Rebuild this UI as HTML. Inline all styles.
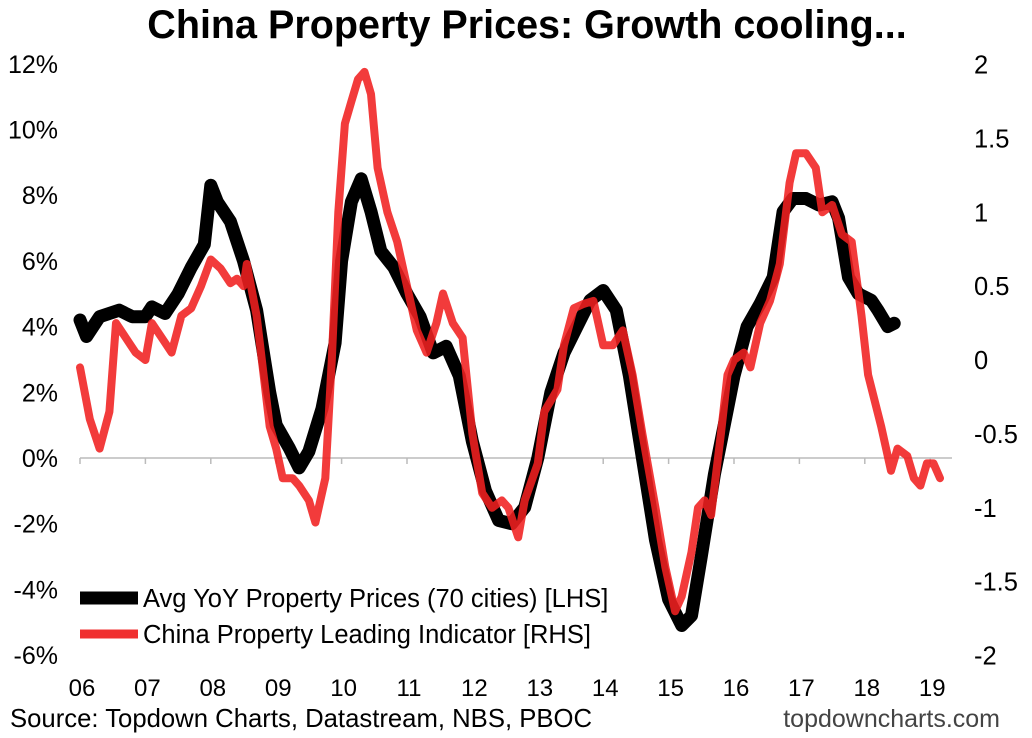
<!DOCTYPE html>
<html><head><meta charset="utf-8"><style>
body{margin:0;background:#fff;}
svg{display:block;font-family:"Liberation Sans",Arial,sans-serif;}
</style></head><body>
<svg id="chart" width="1032" height="738">
<text x="527" y="38" text-anchor="middle" font-size="39.5" font-weight="bold">China Property Prices: Growth cooling...</text>
<g id="yleft"></g>
<g id="yright"></g>
<g id="xaxis"></g>
<g id="series"></g>
<g>
<line x1="80" y1="598" x2="138" y2="598" stroke="#000" stroke-width="13"/>
<text x="143" y="607" font-size="25.5">Avg YoY Property Prices (70 cities) [LHS]</text>
<line x1="80" y1="634" x2="138" y2="634" stroke="#f03030" stroke-width="9"/>
<text x="143" y="643" font-size="25.5">China Property Leading Indicator [RHS]</text>
</g>
<text x="10" y="727" font-size="25.7">Source: Topdown Charts, Datastream, NBS, PBOC</text>
<text x="1000" y="727" font-size="25" fill="#444" text-anchor="end">topdowncharts.com</text>
</svg>
<script>
const leftTicks=[12,10,8,6,4,2,0,-2,-4,-6];
const rightTicks=[2,1.5,1,0.5,0,-0.5,-1,-1.5,-2];
const rightLabels=["2","1.5","1","0.5","0","-0.5","-1","-1.5","-2"];
const xLabels=["06","07","08","09","10","11","12","13","14","15","16","17","18","19"];
const blackT=[2006.0,2006.1,2006.3,2006.6,2006.8,2007.0,2007.1,2007.3,2007.5,2007.7,2007.9,2008.0,2008.1,2008.3,2008.5,2008.7,2008.9,2009.0,2009.2,2009.35,2009.5,2009.7,2009.9,2010.0,2010.15,2010.3,2010.45,2010.6,2010.8,2011.0,2011.2,2011.4,2011.6,2011.8,2012.0,2012.2,2012.4,2012.6,2012.8,2013.0,2013.2,2013.4,2013.6,2013.8,2014.0,2014.2,2014.4,2014.6,2014.8,2015.0,2015.2,2015.35,2015.5,2015.7,2015.9,2016.0,2016.2,2016.4,2016.6,2016.75,2016.9,2017.1,2017.3,2017.5,2017.6,2017.75,2017.9,2018.1,2018.2,2018.35,2018.45];
const blackV=[4.2,3.7,4.3,4.5,4.3,4.3,4.6,4.4,5.0,5.8,6.5,8.3,7.8,7.2,6.0,4.5,2.0,1.0,0.3,-0.3,0.2,1.5,3.5,6.0,7.8,8.5,7.5,6.3,5.8,5.0,4.3,3.2,3.4,2.5,0.5,-1.0,-1.9,-2.0,-1.5,0.0,2.0,3.2,4.0,4.8,5.1,4.5,2.5,0.0,-2.5,-4.3,-5.1,-4.8,-3.0,-0.5,1.5,2.5,4.0,4.7,5.5,7.5,7.9,7.9,7.7,7.8,7.3,5.5,5.0,4.8,4.5,4.0,4.1];
const redT=[2006.0,2006.15,2006.3,2006.45,2006.55,2006.7,2006.85,2007.0,2007.1,2007.25,2007.4,2007.55,2007.7,2007.85,2008.0,2008.15,2008.3,2008.4,2008.5,2008.55,2008.7,2008.9,2009.0,2009.1,2009.25,2009.35,2009.5,2009.6,2009.75,2009.85,2009.95,2010.05,2010.15,2010.25,2010.35,2010.45,2010.55,2010.7,2010.85,2011.0,2011.15,2011.3,2011.45,2011.55,2011.7,2011.85,2012.0,2012.15,2012.3,2012.45,2012.55,2012.7,2012.8,2013.0,2013.1,2013.3,2013.4,2013.55,2013.7,2013.85,2014.0,2014.15,2014.3,2014.45,2014.6,2014.8,2014.95,2015.1,2015.2,2015.35,2015.45,2015.55,2015.65,2015.8,2015.9,2016.0,2016.15,2016.25,2016.4,2016.55,2016.7,2016.85,2016.95,2017.1,2017.25,2017.35,2017.5,2017.65,2017.8,2017.95,2018.05,2018.25,2018.4,2018.5,2018.65,2018.75,2018.85,2018.95,2019.05,2019.15];
const redV=[-0.05,-0.4,-0.6,-0.35,0.25,0.15,0.05,0.0,0.25,0.15,0.05,0.3,0.35,0.5,0.68,0.62,0.52,0.55,0.5,0.65,0.3,-0.45,-0.6,-0.8,-0.8,-0.85,-0.95,-1.1,-0.8,0.0,1.0,1.6,1.75,1.9,1.95,1.8,1.3,1.0,0.8,0.5,0.2,0.05,0.25,0.45,0.25,0.15,-0.5,-0.9,-1.0,-0.95,-1.0,-1.2,-0.95,-0.7,-0.35,-0.2,0.1,0.35,0.38,0.4,0.1,0.1,0.2,-0.1,-0.5,-1.0,-1.4,-1.7,-1.6,-1.3,-1.0,-0.95,-1.05,-0.5,-0.1,0.0,0.05,-0.05,0.25,0.4,0.65,1.2,1.4,1.4,1.3,1.0,1.05,0.85,0.8,0.3,-0.1,-0.45,-0.75,-0.6,-0.65,-0.8,-0.85,-0.7,-0.7,-0.8];
const NS="http://www.w3.org/2000/svg";
const xS=t=>80+(t-2006)*65.4;
const yL=v=>458-v*32.85;
const yR=v=>360-v*147.75;
function mk(tag,attrs,parent,txt){const e=document.createElementNS(NS,tag);for(const k in attrs)e.setAttribute(k,attrs[k]);if(txt!==undefined)e.textContent=txt;parent.appendChild(e);return e;}
const gl=document.getElementById('yleft'),gr=document.getElementById('yright'),gx=document.getElementById('xaxis'),gs=document.getElementById('series');
leftTicks.forEach(v=>{const e=mk('text',{x:58,y:yL(v)+9,'text-anchor':'end','font-size':25},gl,v+'%');

});
rightTicks.forEach((v,i)=>{const e=mk('text',{x:974,y:yR(v)+9,'font-size':25.5},gr,rightLabels[i]);

});
const ax=mk('line',{x1:80,y1:yL(0),x2:952,y2:yL(0),stroke:'#bbb','stroke-width':1.5},gx);


xLabels.forEach((l,i)=>{const x=xS(2006+i);
const tk=mk('line',{x1:x,y1:yL(0),x2:x,y2:yL(0)+6,stroke:'#bbb','stroke-width':1.5},gx);


const e=mk('text',{x:x+2,y:696,'text-anchor':'middle','font-size':24},gx,l);

});
const pb=mk('path',{d:blackT.map((t,i)=>(i?'L':'M')+xS(t).toFixed(1)+','+yL(blackV[i]).toFixed(1)).join(''),fill:'none',stroke:'#000','stroke-width':13,'stroke-linejoin':'round','stroke-linecap':'round'},gs);


const pr=mk('path',{d:redT.map((t,i)=>(i?'L':'M')+xS(t).toFixed(1)+','+yR(redV[i]).toFixed(1)).join(''),fill:'none',stroke:'#f02020','stroke-opacity':0.88,'stroke-width':8,'stroke-linejoin':'round','stroke-linecap':'round'},gs);


</script>
</body></html>
